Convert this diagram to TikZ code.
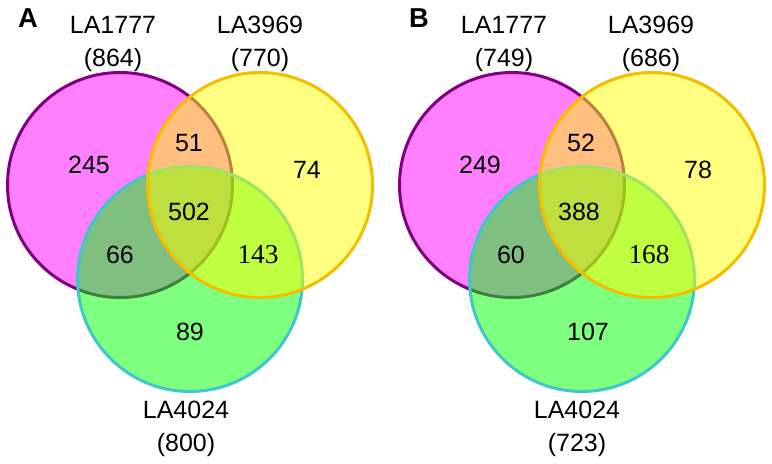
\documentclass[tikz,border=0pt]{standalone}
\usepackage{fontspec}
\setmainfont{Liberation Sans}
\newfontfamily\numserif{Liberation Serif}
\definecolor{fillM}{RGB}{255,0,255}
\definecolor{lineM}{RGB}{128,0,128}
\definecolor{fillY}{RGB}{255,255,0}
\definecolor{lineY}{RGB}{244,190,0}
\definecolor{fillG}{RGB}{0,255,0}
\definecolor{lineG}{RGB}{64,200,200}

\begin{document}
\begin{tikzpicture}[x=0.75pt, y=-0.75pt,
  set/.style={circle, minimum size=168.75pt, inner sep=0pt, line width=2.25pt, fill opacity=0.5},
  count/.style={font=\fontsize{18.75}{22}\selectfont},
  serifcount/.style={font=\fontsize{20.5}{22}\selectfont\numserif},
  title/.style={font=\fontsize{18.75}{24.5}\selectfont, align=center},
  panel/.style={font=\fontsize{20.5}{22}\selectfont\bfseries}]
\fill[white] (0,0) rectangle (772,464);
\useasboundingbox (0,0) rectangle (772,464);

% panel A
\node (mA) [set, draw=lineM, fill=fillM] at (120,185) {};
\node (gA) [set, draw=lineG, fill=fillG] at (190,279) {};
\node (yA) [set, draw=lineY, fill=fillY] at (260,185) {};
\node (pA) [panel] at (28,18) {A};
\node (tmA) [title] at (113,44) {LA1777\\(864)};
\node (tyA) [title] at (260,44) {LA3969\\(770)};
\node (tgA) [title] at (186,429) {LA4024\\(800)};
\node (nmA) [count] at (89,165) {245};
\node (nmyA) [count] at (189,143) {51};
\node (nyA) [count] at (307,170) {74};
\node (nallA) [count] at (189,212) {502};
\node (nmgA) [count] at (120,255) {66};
\node (nygA) [serifcount] at (258,255) {143};
\node (ngA) [count] at (190,332) {89};

% panel B
\node (mB) [set, draw=lineM, fill=fillM] at (512,185) {};
\node (gB) [set, draw=lineG, fill=fillG] at (582,279) {};
\node (yB) [set, draw=lineY, fill=fillY] at (652,185) {};
\node (pB) [panel] at (419,18) {B};
\node (tmB) [title] at (504,44) {LA1777\\(749)};
\node (tyB) [title] at (651,44) {LA3969\\(686)};
\node (tgB) [title] at (577,429) {LA4024\\(723)};
\node (nmB) [count] at (480,165) {249};
\node (nmyB) [count] at (581,143) {52};
\node (nyB) [count] at (698,170) {78};
\node (nallB) [count] at (579,212) {388};
\node (nmgB) [count] at (511,255) {60};
\node (nygB) [serifcount] at (649,255) {168};
\node (ngB) [count] at (588,332) {107};
\end{tikzpicture}
\end{document}
